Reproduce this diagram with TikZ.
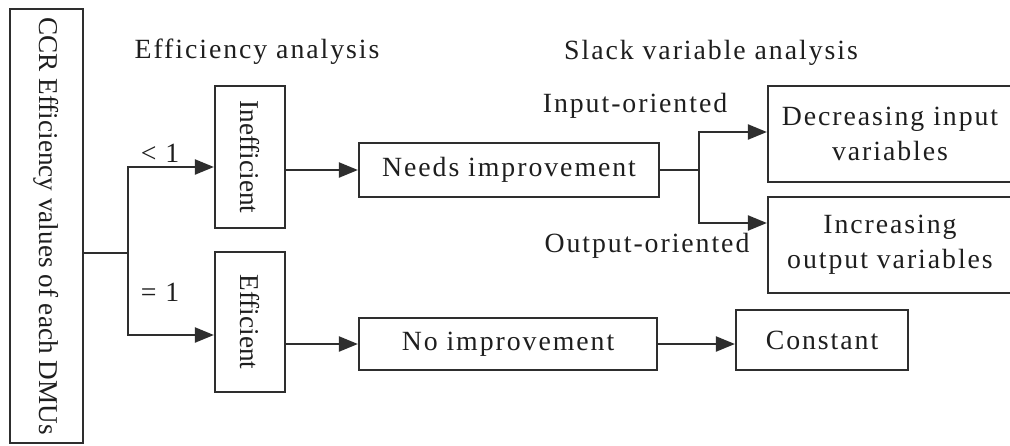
\documentclass[tikz,border=0pt]{standalone}
\usepackage{fontspec}
\setmainfont{Liberation Serif}
\newfontfamily\hfont{Liberation Serif}[LetterSpace=7]
\usetikzlibrary{arrows.meta}
\definecolor{linec}{HTML}{2E2E2E}
\definecolor{textc}{HTML}{1E1E1E}
\begin{document}
\begin{tikzpicture}[x=0.5pt,y=-0.5pt,
  every node/.style={text=textc, font=\fontsize{13.9}{17.5}\selectfont\hfont, inner sep=0pt},
  box/.style={draw=linec, line width=1.1pt, align=center},
  vbox/.style={box, rotate=-90, font=\fontsize{13.6}{17.5}\selectfont},
  conn/.style={draw=linec, line width=1.1pt},
  arr/.style={conn, -{Triangle[length=9.5pt,width=7.5pt]}},
  lbl/.style={}]
\useasboundingbox (0,0) rectangle (1010,445);
% boxes (vbox: north = right side, south = left side)
\node[vbox, minimum width=217pt, minimum height=36.5pt] (ccr) at (46.5,226) {CCR Efficiency values of each DMUs};
\node[vbox, minimum width=71pt, minimum height=35pt] (ineff) at (250,157) {Inefficient};
\node[vbox, minimum width=70pt, minimum height=35pt] (eff) at (250,322) {Efficient};
\node[box, minimum width=150pt, minimum height=27pt] (needs) at (509,170) {Needs improvement};
\node[box, minimum width=149pt, minimum height=26pt] (noimp) at (508,344) {No improvement};
\node[box, minimum width=122pt, minimum height=48pt] (dec) at (890,134) {Decreasing input\\variables};
\node[box, minimum width=122pt, minimum height=48pt] (inc) at (890,245) {Increasing\\output variables};
\node[box, minimum width=86pt, minimum height=30pt] (const) at (822,340) {Constant};
% labels
\node[lbl] (t1) at (257,52) {Efficiency analysis};
\node[lbl] (t2) at (711,53) {Slack variable analysis};
\node[lbl] (l1) at (160,153) {< 1};
\node[lbl] (l2) at (160,292) {= 1};
\node[lbl] (l3) at (635,106) {Input-oriented};
\node[lbl] (l4) at (647,246) {Output-oriented};
% connectors
\coordinate (b1) at (128,253);
\draw[conn] (ccr.north |- b1) -- (b1);
\draw[arr] (b1) |- ([yshift=-5pt]ineff.south);
\draw[arr] (b1) |- ([yshift=-6.5pt]eff.south);
\draw[arr] (ineff.north |- needs.west) -- (needs.west);
\draw[arr] (eff.north |- noimp.west) -- (noimp.west);
\coordinate (b2) at (699,170);
\draw[conn] (needs.east) -- (b2);
\draw[arr] (b2) |- ([yshift=1pt]dec.west);
\draw[arr] (b2) |- ([yshift=11pt]inc.west);
\draw[arr] (noimp.east) -- (const.west |- noimp.east);
\end{tikzpicture}
\end{document}
